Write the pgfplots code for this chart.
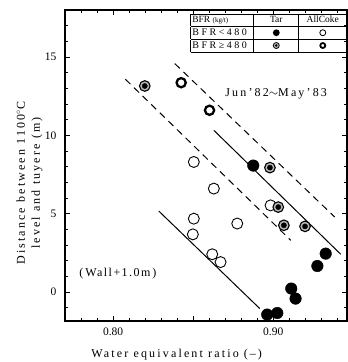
\documentclass[border=0pt]{standalone}
\usepackage{fontspec}
\setmainfont{Liberation Serif}
\newfontfamily\spaced{Liberation Serif}[LetterSpace=18]
\newfontfamily\spacedB{Liberation Serif}[LetterSpace=12]
\newfontfamily\spacedT{Liberation Serif}[LetterSpace=25]
\usepackage{pgfplots}
\pgfplotsset{compat=1.18}

\pgfplotstableread{
x y
0.8875 8.07
0.9327 2.45
0.9275 1.66
0.9112 0.22
0.9139 -0.42
0.8962 -1.44
0.9025 -1.34
}\tarlow
\pgfplotstableread{
x y
0.8504 8.30
0.8629 6.60
0.8983 5.53
0.8504 4.68
0.8498 3.68
0.8775 4.37
0.8619 2.41
0.8671 1.91
}\cokelow
\pgfplotstableread{
x y
0.8425 13.36
0.8602 11.60
}\cokehigh
\pgfplotstableread{
x y
0.8198 13.15
0.8979 7.94
0.9031 5.42
0.9066 4.26
0.9198 4.19
}\tarhigh
\newsavebox\symF
\newsavebox\symO
\newsavebox\symD
\newsavebox\symT

\begin{document}%
\savebox\symF{\tikz\fill (0,0) circle (3.4pt);}%
\savebox\symO{\tikz\draw[line width=0.8pt] (0,0) circle (3pt);}%
\savebox\symD{\tikz{\filldraw[fill=gray!55,line width=0.8pt] (0,0) circle (3pt);\fill (0,0) circle (1.4pt);}}%
\savebox\symT{\tikz\draw[line width=1.8pt] (0,0) circle (2.5pt);}%
\begin{tikzpicture}
\begin{axis}[name=ax, scale only axis, width=282pt, height=311pt,
  xmin=0.77, xmax=0.946, ymin=-1.85, ymax=18,
  xtick={0.8,0.85,0.9}, xticklabels={0.80,,0.90},
  minor xtick={0.77,0.78,0.79,0.81,0.82,0.83,0.84,0.86,0.87,0.88,0.89,0.91,0.92,0.93,0.94},
  ytick={0,5,10,15},
  minor ytick={-1,1,2,3,4,6,7,8,9,11,12,13,14,16,17},
  tick align=inside, major tick length=5pt, minor tick length=3pt,
  tick style={line width=0.8pt, black},
  axis line style={line width=1.1pt},
  /pgf/number format/assume math mode=true,
  tick label style={font=\fontsize{11.5}{12}\selectfont},
  yticklabel style={xshift=-5pt},
  xticklabel style={yshift=-3pt},
  clip=false]

\addplot[black, line width=1pt, dash pattern=on 7pt off 5pt] coordinates {(0.8385,14.58) (0.9383,4.79)};
\addplot[black, line width=1pt] coordinates {(0.8629,10.32) (0.9421,2.41)};
\addplot[black, line width=1pt, dash pattern=on 7pt off 5pt] coordinates {(0.8077,13.58) (0.9109,3.30)};
\addplot[black, line width=1pt] coordinates {(0.8285,5.17) (0.8916,-1.06)};

\addplot[only marks, mark=*, mark size=5.8pt, mark options={fill=black, draw=black}] table {\tarlow};
\addplot[only marks, mark=o, mark size=5.5pt, mark options={draw=black, fill=white, line width=0.9pt}] table {\cokelow};
\addplot[only marks, mark=o, mark size=4.6pt, mark options={draw=black, fill=white, line width=2.3pt}] table {\cokehigh};
\addplot[only marks, mark=*, mark size=5.3pt, mark options={draw=black, fill=gray!55, line width=1.1pt}] table {\tarhigh};
\addplot[only marks, mark=*, mark size=2.6pt, mark options={draw=black, fill=black}] table {\tarhigh};

\node[font=\spaced\fontsize{12}{13}\selectfont] at (axis cs:0.9018,12.66) {Jun’82$\sim$May’83};
\node[font=\spacedB\fontsize{12}{13}\selectfont] at (axis cs:0.803,1.19) {(\,Wall+1.0m\,)};

\node[anchor=north east, inner sep=0pt] at (rel axis cs:1,0.989) {%
  \setlength{\tabcolsep}{0pt}\setlength{\arrayrulewidth}{0.8pt}%
  \begin{tabular}{|l|c|c|}\hline
  \makebox[63pt][l]{\rule[-2.3pt]{0pt}{9pt}\fontsize{9.5}{10}\selectfont\,BFR {\fontsize{7}{8}\selectfont(kg/t)}} & \makebox[45pt]{\fontsize{9.5}{10}\selectfont Tar} & \makebox[48pt]{\fontsize{9.5}{10}\selectfont AllCoke}\\\hline
  \makebox[63pt][l]{\rule[-2.3pt]{0pt}{9pt}\spacedT\fontsize{10}{10}\selectfont\,BFR<480} & \makebox[45pt]{\raisebox{-0.5pt}{\usebox\symF}} & \makebox[48pt]{\raisebox{-0.5pt}{\usebox\symO}}\\\hline
  \makebox[63pt][l]{\rule[-2.3pt]{0pt}{9pt}\spacedT\fontsize{10}{10}\selectfont\,BFR≥480} & \makebox[45pt]{\raisebox{-0.5pt}{\usebox\symD}} & \makebox[48pt]{\raisebox{-0.5pt}{\usebox\symT}}\\\hline
  \end{tabular}};

\node[rotate=90, align=center, font=\spaced\fontsize{12}{15}\selectfont] at (axis description cs:-0.126,0.443) {Distance between 1100$^{\circ}$C\\level and tuyere (\,m\,)};
\node[font=\spaced\fontsize{12}{14}\selectfont] at (axis description cs:0.396,-0.107) {Water equivalent ratio (\,–\,)};
\end{axis}
\pgfresetboundingbox
\path ([xshift=-65pt,yshift=-41pt]ax.south west) rectangle ([xshift=1pt,yshift=10pt]ax.north east);
\end{tikzpicture}%
\end{document}
